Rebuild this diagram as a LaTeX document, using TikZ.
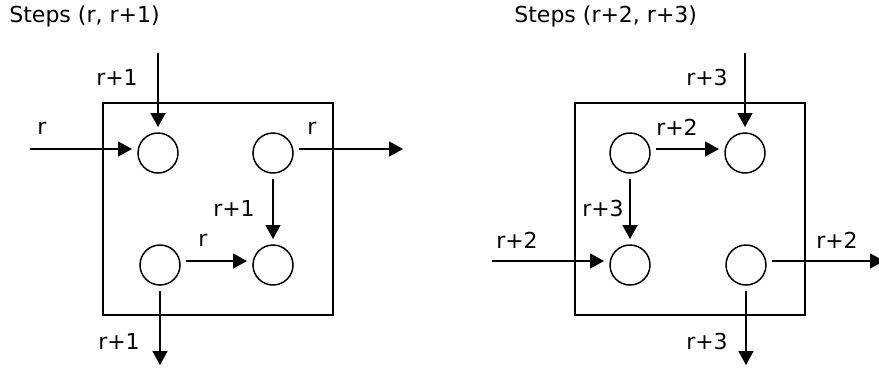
\documentclass[tikz,border=0pt]{standalone}
\usepackage{fontspec}
\setmainfont{DejaVu Sans}
\usetikzlibrary{arrows.meta,calc}

\begin{document}
\begin{tikzpicture}[x=0.5pt,y=-0.5pt,font=\fontsize{11}{13}\selectfont,>={Triangle[length=7pt,width=7.5pt]}]
\tikzset{cell/.style={circle,draw,line width=0.75pt,minimum size=20pt,inner sep=0pt,outer sep=3pt}, panel/.style={draw,line width=0.85pt,minimum width=115pt,minimum height=106pt,inner sep=0pt}, flow/.style={->,line width=0.85pt}, lab/.style={inner sep=0pt}}
\useasboundingbox (0,0) rectangle (879,372);
% Titles of the two step pairs.
\node[lab,anchor=west] (ltitle) at (9,16) {Steps (r, r+1)};
\node[lab,anchor=west] (rtitle) at (514,16) {Steps (r+2, r+3)};
\node[panel] (lbox) at (218,209) {};
\node[panel] (rbox) at (690,209) {};
\foreach \n/\x/\y in {l11/158/153,l12/273/153,l21/160/265,l22/273/265,r11/630/153,r12/745/153,r21/630/265,r22/746/265}{\node[cell] (\n) at (\x,\y) {};}
% Free ends of the outside signals.
\coordinate (lin) at (30,149);
\coordinate (ltop) at (158,53);
\coordinate (lout) at (403,149);
\coordinate (lbot) at (160,365);
\coordinate (rin) at (492,261);
\coordinate (rtop) at (745,53);
\coordinate (rout) at (884,261);
\coordinate (rbot) at (746,365);
% Left panel: steps r and r+1.
\draw[flow] (lin) -- ([yshift=2pt]l11.west);
\draw[flow] (ltop) -- (l11.north);
\draw[flow] ([yshift=2pt]l12.east) -- (lout);
\draw[flow] (l12) -- (l22);
\draw[flow] ([yshift=2pt]l21.east) -- ([yshift=2pt]l22.west);
\draw[flow] (l21.south) -- (lbot);
% Right panel: steps r+2 and r+3.
\draw[flow] (rtop) -- (r12.north);
\draw[flow] ([yshift=2pt]r11.east) -- ([yshift=2pt]r12.west);
\draw[flow] (r11) -- (r21);
\draw[flow] (rin) -- ([yshift=2pt]r21.west);
\draw[flow] ([yshift=2pt]r22.east) -- (rout);
\draw[flow] (r22.south) -- (rbot);
\foreach \n/\x/\y/\t in {la/117/77/r+1,lb/42/128/r,lc/312/128/r,ld/234/208/r+1,le/203/240/r,lf/119/341/r+1,ra/707/77/r+3,rb/677/127/r+2,rc/603/208/r+3,rd/517/240/r+2,re/837/240/r+2,rf/707/341/r+3}{\node[lab] (\n) at (\x,\y) {\t};}
\end{tikzpicture}
\end{document}
